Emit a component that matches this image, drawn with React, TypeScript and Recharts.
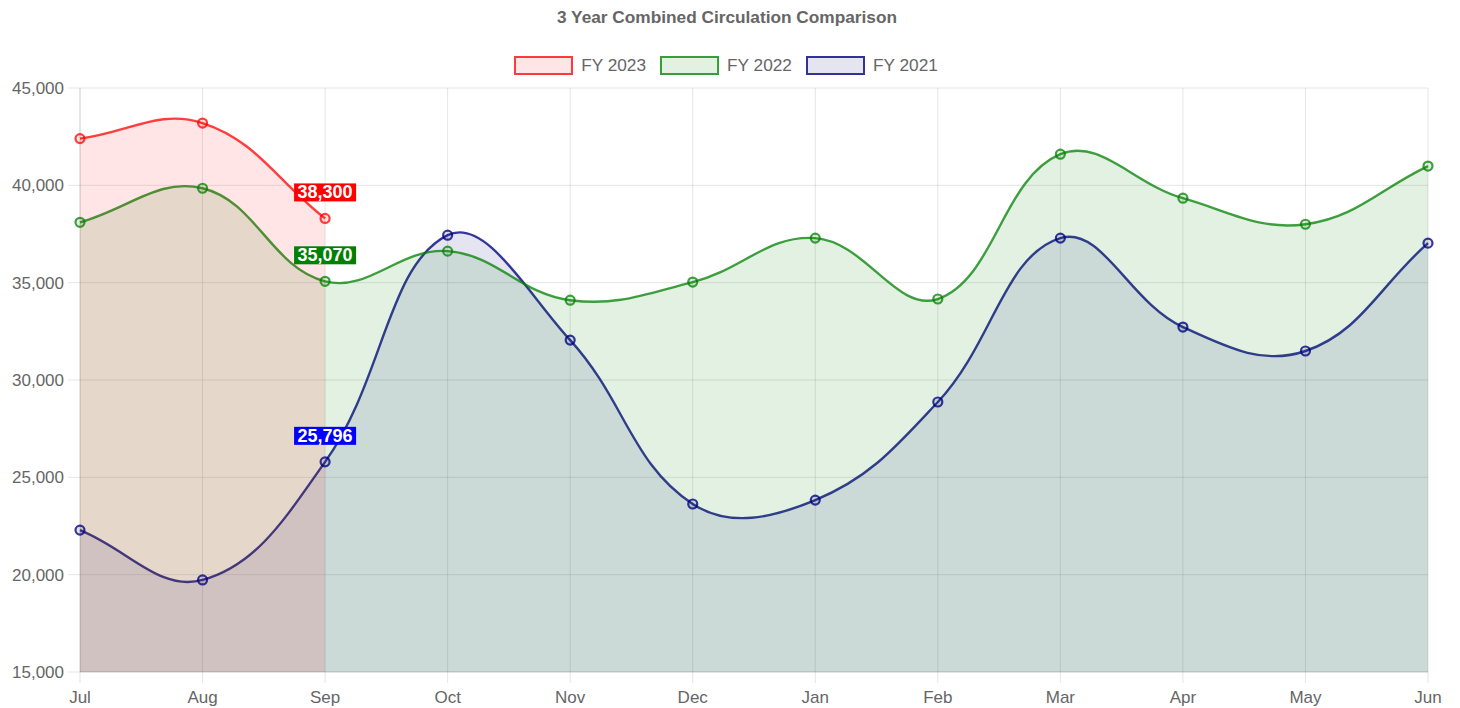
import React from 'react';
import { AreaChart, Area, XAxis, YAxis, CartesianGrid, LabelList } from 'recharts';

const months = ['Jul', 'Aug', 'Sep', 'Oct', 'Nov', 'Dec', 'Jan', 'Feb', 'Mar', 'Apr', 'May', 'Jun'];
const fy2023 = [42400, 43200, 38300, null, null, null, null, null, null, null, null, null];
const fy2022 = [38100, 39850, 35070, 36620, 34100, 35030, 37290, 34160, 41600, 39340, 38000, 40990];
const fy2021 = [22290, 19730, 25796, 37440, 32050, 23630, 23830, 28870, 37290, 32720, 31490, 37030];
const yTicks = [15000, 20000, 25000, 30000, 35000, 40000, 45000];
const labelMonth = 'Sep';

const series = [
  { key: 'fy2023', name: 'FY 2023', stroke: 'rgba(255,0,0,0.75)', fill: 'rgba(255,0,0,0.1)', label: '#ff0000' },
  { key: 'fy2022', name: 'FY 2022', stroke: 'rgba(0,128,0,0.75)', fill: 'rgba(0,128,0,0.11)', label: '#008000' },
  { key: 'fy2021', name: 'FY 2021', stroke: 'rgba(0,0,128,0.78)', fill: 'rgba(0,0,128,0.1)', label: '#0000ff' },
];

const data = months.map((m, i) => ({ month: m, fy2023: fy2023[i], fy2022: fy2022[i], fy2021: fy2021[i] }));

const FONT = '"Liberation Sans", Arial, Helvetica, sans-serif';

// Chart.js-like spline (tension 0.4)
function chartJsCurve(context: any) {
  let pts: number[][] = [];
  let line = NaN;
  const t = 0.4;
  return {
    areaStart() { line = 0; },
    areaEnd() { line = NaN; },
    lineStart() { pts = []; },
    point(x: number, y: number) { pts.push([+x, +y]); },
    lineEnd() {
      const n = pts.length;
      if (n > 0) {
        if (line) context.lineTo(pts[0][0], pts[0][1]);
        else context.moveTo(pts[0][0], pts[0][1]);
        const cps = pts.map((p, i) => {
          const prev = pts[i - 1] || p;
          const next = pts[i + 1] || p;
          const d01 = Math.hypot(p[0] - prev[0], p[1] - prev[1]);
          const d12 = Math.hypot(next[0] - p[0], next[1] - p[1]);
          let s01 = d01 / (d01 + d12);
          let s12 = d12 / (d01 + d12);
          if (!isFinite(s01)) s01 = 0;
          if (!isFinite(s12)) s12 = 0;
          const fa = t * s01;
          const fb = t * s12;
          return {
            px: p[0] - fa * (next[0] - prev[0]),
            py: p[1] - fa * (next[1] - prev[1]),
            nx: p[0] + fb * (next[0] - prev[0]),
            ny: p[1] + fb * (next[1] - prev[1]),
          };
        });
        for (let i = 1; i < n; i++) {
          context.bezierCurveTo(cps[i - 1].nx, cps[i - 1].ny, cps[i].px, cps[i].py, pts[i][0], pts[i][1]);
        }
      }
      if (line || (line !== 0 && n === 1)) context.closePath();
      line = 1 - line;
    },
  };
}

const fmt = (v: number) => v.toLocaleString('en-US');

const makeLabel = (color: string) => (props: any) => {
  const { x, y, value, index } = props;
  if (months[index] !== labelMonth || value == null) return null;
  return (
    <g>
      <rect x={x - 31} y={y - 35} width={62} height={18} fill={color} />
      <text x={x} y={y - 20} textAnchor="middle" fill="#ffffff" fontWeight="bold" fontSize={18} fontFamily={FONT}>
        {fmt(value)}
      </text>
    </g>
  );
};

export default function App() {
  const drawOrder = [...series].reverse();
  return (
    <div style={{ position: 'absolute', left: 0, top: 0, width: 1460, height: 708, background: '#fff', fontFamily: FONT }}>
      <div style={{ position: 'absolute', left: 0, top: 7, width: 1454, textAlign: 'center', fontSize: 17.25, lineHeight: '20px', fontWeight: 'bold', color: '#666' }}>
        3 Year Combined Circulation Comparison
      </div>
      <div style={{ position: 'absolute', left: 0, top: 55, width: 1452, display: 'flex', justifyContent: 'center', alignItems: 'center', height: 20 }}>
        {series.map((s, i) => (
          <div key={s.key} style={{ display: 'flex', alignItems: 'center', marginLeft: i === 0 ? 0 : 14 }}>
            <div style={{ width: 55, height: 15, border: `2px solid ${s.stroke}`, background: s.fill }} />
            <span style={{ marginLeft: 8, fontSize: 17.25, color: '#666', lineHeight: '20px' }}>{s.name}</span>
          </div>
        ))}
      </div>
      <AreaChart width={1460} height={708} data={data} margin={{ top: 88, right: 32, bottom: 0, left: 0 }}>
        <CartesianGrid stroke="rgba(0,0,0,0.1)" />
        <XAxis
          dataKey="month"
          height={36}
          tickSize={11}
          tickMargin={8}
          stroke="rgba(0,0,0,0.1)"
          tick={{ fill: '#666', fontSize: 17, fontFamily: FONT }}
          interval={0}
        />
        <YAxis
          width={80}
          domain={[15000, 45000]}
          ticks={yTicks}
          tickFormatter={fmt}
          tickSize={12}
          tickMargin={4}
          stroke="rgba(0,0,0,0.1)"
          tick={{ fill: '#666', fontSize: 17, fontFamily: FONT }}
          allowDataOverflow
        />
        {drawOrder.map((s) => (
          <Area
            key={s.key}
            dataKey={s.key}
            name={s.name}
            type={chartJsCurve as any}
            stroke={s.stroke}
            strokeWidth={2.4}
            fill={s.fill}
            fillOpacity={1}
            dot={{ r: 4.5, strokeWidth: 2.2, stroke: s.stroke, fill: s.fill }}
            activeDot={false}
            isAnimationActive={false}
          >
            <LabelList dataKey={s.key} content={makeLabel(s.label)} />
          </Area>
        ))}
      </AreaChart>
    </div>
  );
}
